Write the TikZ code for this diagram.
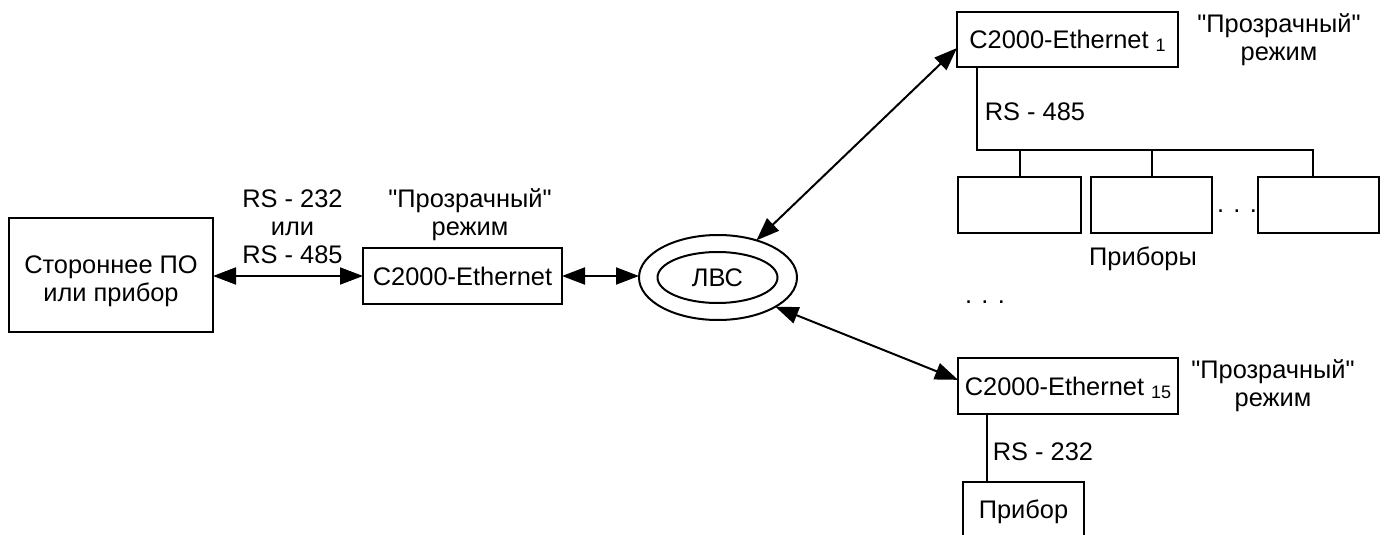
\documentclass[tikz,border=0pt]{standalone}
\usepackage{fontspec}
\setmainfont{Liberation Sans}[Ligatures=TeXOff]
\usetikzlibrary{arrows.meta,shapes.geometric,calc}
\newcommand{\lowidx}[1]{\raisebox{-1.7pt}[0pt][0pt]{\fontsize{9pt}{9pt}\selectfont #1}}
\begin{document}
\begin{tikzpicture}[x=0.5pt,y=-0.5pt,
  every node/.style={font=\fontsize{12.7pt}{14pt}\selectfont, outer sep=0pt, inner sep=0pt},
  box/.style={draw, line width=1pt},
  txt/.style={align=center},
  link/.style={line width=1pt},
  dbl/.style={link, {Triangle[length=11.5pt,width=8.5pt]}-{Triangle[length=11.5pt,width=8.5pt]}}]
\useasboundingbox (0,0) rectangle (1386,535);
\clip (0,0) rectangle (1386,535);

% left side
\node[box, minimum width=102pt, minimum height=57pt] (po) at (111,275) {};
\node[txt] (potxt) at (111,281.5) {Стороннее ПО\\или прибор};
\node[txt] (rslbl) at (292.5,227) {RS - 232\\или\\RS - 485};
\node[box, minimum width=99.5pt, minimum height=28pt] (c2k) at (462.5,276) {C2000-Ethernet};
\node[txt] (mode0) at (470,214.5) {"Прозрачный"\\режим};

% LAN
\node[draw, ellipse, line width=1pt, minimum width=79pt, minimum height=42.5pt] (lvs) at (718,277.5) {};
\node[draw, ellipse, line width=1pt, minimum width=60pt, minimum height=25.5pt] (lvsin) at (717.5,277.5) {ЛВС};

% top right
\node[box, minimum width=110.5pt, minimum height=27.5pt] (e1) at (1067.5,39.5) {C2000-Ethernet \lowidx{1}};
\node[txt] (mode1) at (1279,39.4) {"Прозрачный"\\режим};
\coordinate (busL) at (977,150);
\coordinate (busR) at (1313,150);
\node[box, minimum width=61.5pt, minimum height=28pt] (b1) at (1019.5,205) {};
\node[box, minimum width=60.5pt, minimum height=28pt] (b2) at (1151.5,205) {};
\node[box, minimum width=60.5pt, minimum height=28pt] (b3) at (1318.5,205) {};
\draw[link] (busL |- e1.south) -- (busL) -- (busR) -- (busR |- b3.north);
\draw[link] (b1.north) -- (b1.north |- busL);
\draw[link] (b2.north) -- (b2.north |- busL);
\node (rs485) at (1035,112) {RS - 485};
\node (dots1) at (1237,211) {. . .};
\node (pribory) at (1143,259) {Приборы};
\node (dots2) at (985,302) {. . .};

% bottom right
\node[box, minimum width=110pt, minimum height=28pt] (e15) at (1068,386) {C2000-Ethernet \lowidx{15}};
\node[txt] (mode15) at (1273,385.4) {"Прозрачный"\\режим};
\node[box, minimum width=60.5pt, minimum height=29.5pt] (pribor) at (1023.5,511.5) {Прибор};
\coordinate (drop) at (987,448);
\draw[link] (drop |- e15.south) -- (drop |- pribor.north);
\node (rs232) at (1043,452) {RS - 232};

% arrows
\draw[dbl] (po.east |- c2k.west) -- (c2k.west);
\draw[dbl] (c2k.east) -- (lvs.west |- c2k.east);
\draw[dbl] (lvs.44) -- ($(e1.north west)!0.655!(e1.south west)$);
\draw[dbl] (lvs.-27) -- ($(e15.north west)!0.39!(e15.south west)$);
\end{tikzpicture}
\end{document}
